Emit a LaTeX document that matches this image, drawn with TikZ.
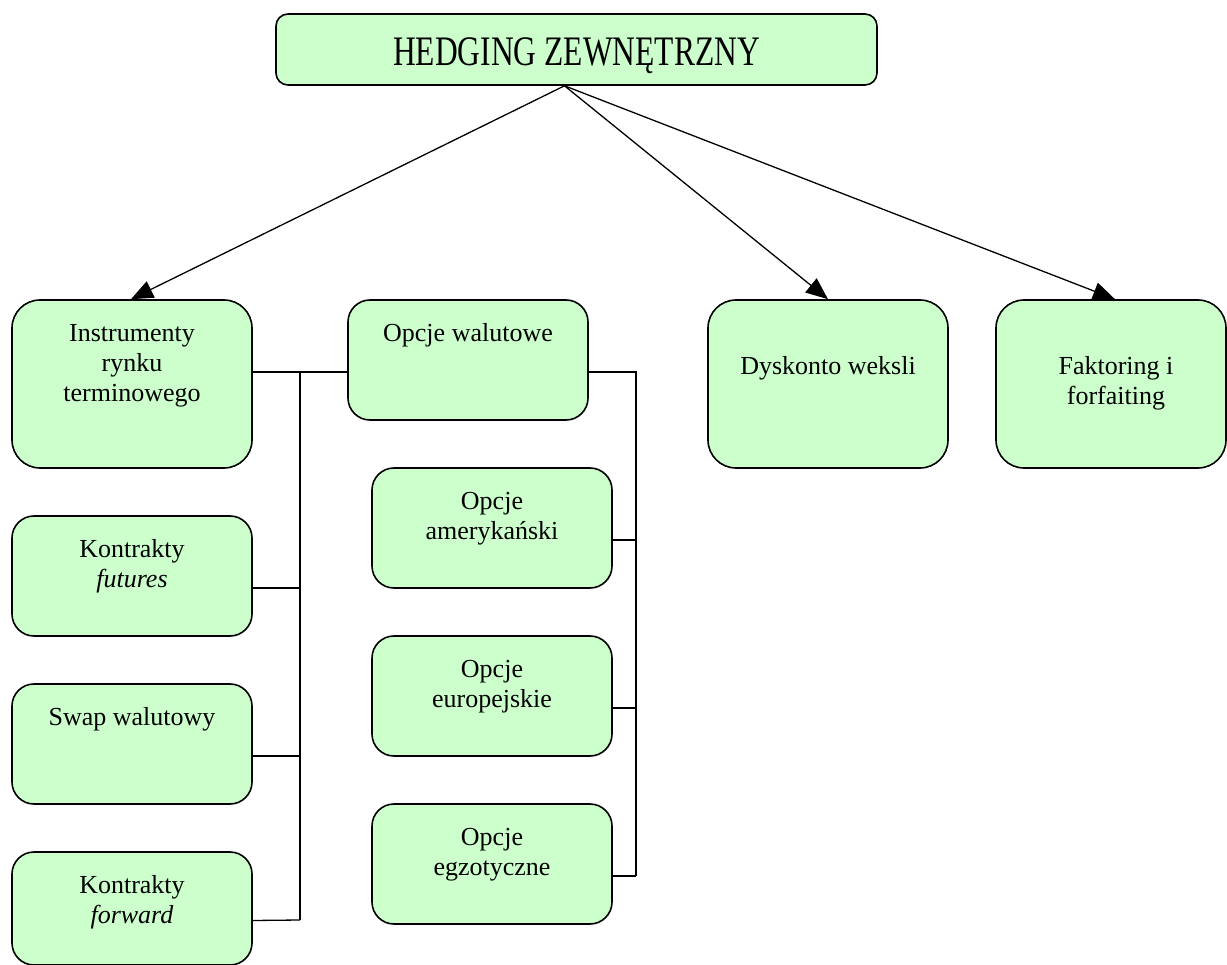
\documentclass[tikz,border=0pt]{standalone}
\usepackage{fontspec}
\setmainfont{Liberation Serif}
\usetikzlibrary{arrows.meta}
\definecolor{boxgreen}{HTML}{CCFFCC}
\begin{document}
\begin{tikzpicture}[x=1pt,y=-1pt,
  box/.style={draw, line width=1.6pt, fill=boxgreen, inner sep=0pt,
    minimum width=240pt, minimum height=120pt, rounded corners=22pt},
  tallbox/.style={box, minimum height=168pt, rounded corners=28pt},
  txt/.style={font=\fontsize{26}{30}\selectfont, align=center, anchor=north, inner sep=0pt},
  conn/.style={line width=1.3pt},
  arr/.style={line width=1.3pt, -{Triangle[length=22pt,width=18pt]}}]
\useasboundingbox (0,0) rectangle (1227,965);
\clip (0,0) rectangle (1227,965);
% boxes
\node[box, minimum width=601pt, minimum height=71pt, rounded corners=12pt] (top) at (576.5,49.5) {};
\node[tallbox] (inst) at (132,384) {};
\node[box] (opw) at (468,360) {};
\node[tallbox] (dys) at (828,384) {};
\node[tallbox, minimum width=230pt] (fak) at (1111,384) {};
\node[box] (fut) at (132,576) {};
\node[box] (swp) at (132,744) {};
\node[box, minimum height=113pt] (fwd) at (132,908.5) {};
\node[box] (ame) at (492,528) {};
\node[box] (eur) at (492,696) {};
\node[box] (egz) at (492,864) {};
% texts
\node[anchor=base] (ttl) at ([yshift=20pt]top.south) {\scalebox{0.75}[1]{\fontsize{42}{50}\selectfont HEDGING ZEWNĘTRZNY}};
\node[txt] (tinst) at ([yshift=-21pt]inst.north) {\strut Instrumenty\\rynku\\terminowego};
\node[txt] (topw) at ([yshift=-21pt]opw.north) {\strut Opcje walutowe};
\node[txt] (tdys) at ([yshift=-54pt]dys.north) {\strut Dyskonto weksli};
\node[txt] (tfak) at ([xshift=5pt,yshift=-54pt]fak.north) {\strut Faktoring i\\forfaiting};
\node[txt] (tfut) at ([yshift=-21pt]fut.north) {\strut Kontrakty\\\textit{futures}};
\node[txt] (tswp) at ([yshift=-21pt]swp.north) {\strut Swap walutowy};
\node[txt] (tfwd) at ([yshift=-21pt]fwd.north) {\strut Kontrakty\\\textit{forward}};
\node[txt] (tame) at ([yshift=-21pt]ame.north) {\strut Opcje\\amerykański};
\node[txt] (teur) at ([yshift=-21pt]eur.north) {\strut Opcje\\europejskie};
\node[txt] (tegz) at ([yshift=-21pt]egz.north) {\strut Opcje\\egzotyczne};
% arrows
\draw[arr] ([xshift=-12pt]top.south) -- ([xshift=-1pt]inst.north);
\draw[arr] ([xshift=-12pt]top.south) -- (dys.north);
\draw[arr] ([xshift=-12pt]top.south) -- ([xshift=4pt]fak.north);
% left bus
\coordinate (b1top) at (300,372);
\coordinate (b1bot) at (300,920);
\draw[conn] ([yshift=12pt]inst.east) -- ([yshift=-12pt]opw.west);
\draw[conn] (b1top) -- (b1bot);
\draw[conn] ([yshift=-12pt]fut.east) -- ([yshift=-12pt]fut.east -| b1top);
\draw[conn] ([yshift=-12pt]swp.east) -- ([yshift=-12pt]swp.east -| b1top);
\draw[conn] ([yshift=-12pt]fwd.east) -- (b1bot);
% right bus
\coordinate (b2top) at (636,372);
\coordinate (b2bot) at (636,876);
\draw[conn] ([yshift=-12pt]opw.east) -- (b2top) -- (b2bot);
\draw[conn] ([yshift=-12pt]ame.east) -- ([yshift=-12pt]ame.east -| b2top);
\draw[conn] ([yshift=-12pt]eur.east) -- ([yshift=-12pt]eur.east -| b2top);
\draw[conn] ([yshift=-12pt]egz.east) -- (b2bot);
\end{tikzpicture}
\end{document}
